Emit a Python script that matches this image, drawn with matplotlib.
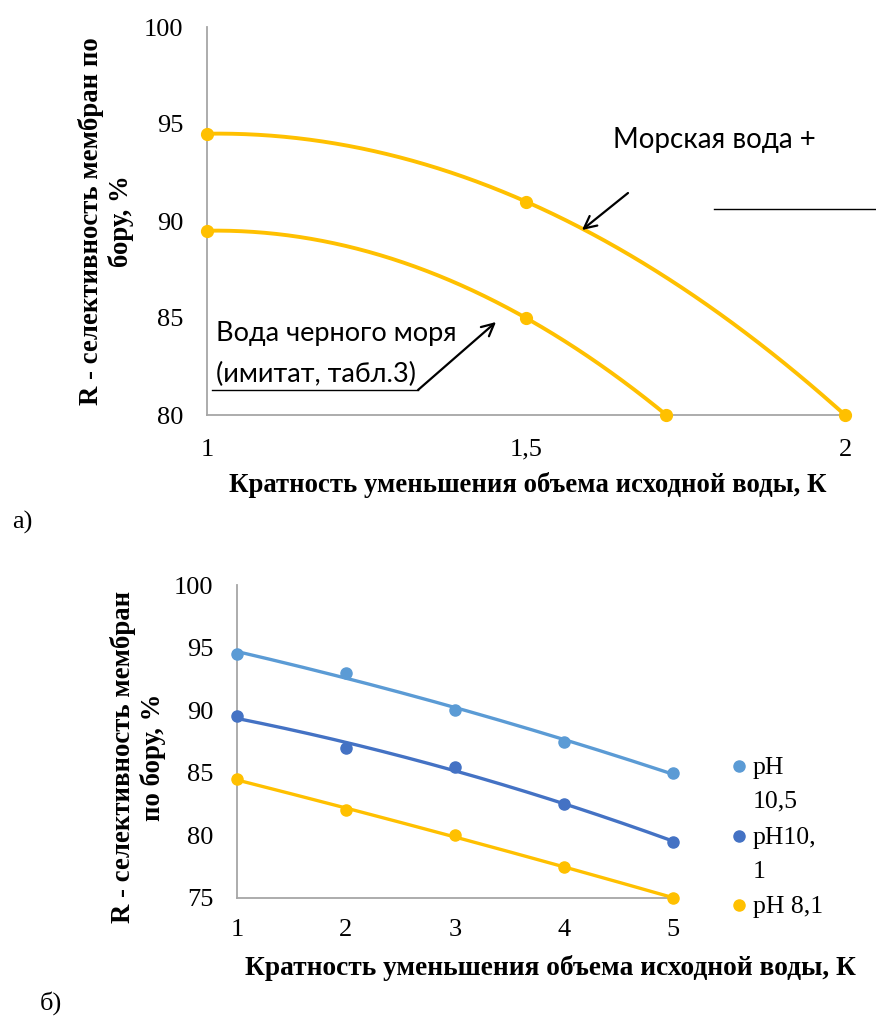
import numpy as np
import matplotlib
matplotlib.use("Agg")
import matplotlib.pyplot as plt
from matplotlib.lines import Line2D

# ---- (а) boron rejection vs. volume reduction factor, two water types ----
k_sea = [1.0, 1.5, 2.0]
r_sea = [94.5, 91.0, 80.0]
k_black = [1.0, 1.5, 1.72]
r_black = [89.5, 85.0, 80.0]
xticks_a = [1, 1.5, 2]
xticklabels_a = ["1", "1,5", "2"]
yticks_a = [80, 85, 90, 95, 100]

# ---- (б) boron rejection at different pH ----
k_ph = [1, 2, 3, 4, 5]
r_ph105 = [94.5, 93.0, 90.0, 87.5, 85.0]
r_ph101 = [89.5, 87.0, 85.5, 82.5, 79.5]
r_ph81 = [84.5, 82.0, 80.0, 77.5, 75.0]
ph_labels = ["pH\n10,5", "pH10,\n1", "pH 8,1"]
xticks_b = [1, 2, 3, 4, 5]
yticks_b = [75, 80, 85, 90, 95, 100]

GOLD = "#FFC000"
LBLUE = "#5B9BD5"
BLUE = "#4472C4"
SPINE = "#A6A6A6"
SERIF = "Liberation Serif"
SANS = "Lato"

W, H = 876, 1019
fig = plt.figure(figsize=(W / 100, H / 100), dpi=100)


def fpos(x, y):
    """pixel position -> figure fraction"""
    return x / W, 1 - y / H


def axes_rect(left, top, right, bottom):
    return [left / W, 1 - bottom / H, (right - left) / W, (bottom - top) / H]


def trend(x, y, n=200):
    coef = np.polyfit(x, y, 2)
    xs = np.linspace(min(x), max(x), n)
    return xs, np.polyval(coef, xs)


def style_axes(ax, ypad, xpad):
    for s in ("top", "right"):
        ax.spines[s].set_visible(False)
    for s in ("left", "bottom"):
        ax.spines[s].set_color(SPINE)
        ax.spines[s].set_linewidth(1.3)
    ax.tick_params(length=0, labelsize=19)
    ax.tick_params(axis="y", pad=ypad)
    ax.tick_params(axis="x", pad=xpad)
    for lab in ax.get_xticklabels() + ax.get_yticklabels():
        lab.set_fontfamily(SERIF)


# ================= (а) =================
ax1 = fig.add_axes(axes_rect(207, 27, 845, 415))
for kx, ry in ((k_sea, r_sea), (k_black, r_black)):
    xs, ys = trend(kx, ry)
    ax1.plot(xs, ys, color=GOLD, lw=2.8, solid_capstyle="round", clip_on=False, zorder=3)
    ax1.plot(kx, ry, "o", color=GOLD, ms=8.5, clip_on=False, zorder=4)
ax1.set_xlim(1, 2)
ax1.set_ylim(80, 100)
ax1.set_xticks(xticks_a)
ax1.set_xticklabels(xticklabels_a)
ax1.set_yticks(yticks_a)
style_axes(ax1, ypad=17, xpad=17)

fig.text(*fpos(106, 221), "R - селективность мембран по\nбору, %", rotation=90,
         ha="center", va="center", multialignment="center", family=SERIF,
         weight="bold", fontsize=19.3, linespacing=1.15)
fig.text(*fpos(528, 485), "Кратность уменьшения объема исходной воды, К",
         ha="center", va="center", family=SERIF, weight="bold", fontsize=19.3)
fig.text(*fpos(22, 522), "а)", ha="center", va="center", family=SERIF, fontsize=19)

# callouts
fig.text(*fpos(613, 140), "Морская вода +", ha="left", va="center", family=SANS, fontsize=20)
fig.add_artist(Line2D([714 / W, 876 / W], [1 - 209 / H, 1 - 209 / H], color="black", lw=1))
ax1.annotate("", xy=fpos(582, 230), xytext=fpos(628, 193),
             xycoords="figure fraction", textcoords="figure fraction",
             arrowprops=dict(arrowstyle="->", color="black", lw=1.6,
                             mutation_scale=22, shrinkA=0, shrinkB=0))

fig.text(*fpos(216, 354), "Вода черного моря\n(имитат, табл.3)", ha="left", va="center",
         family=SANS, fontsize=19.5, linespacing=1.8)
fig.add_artist(Line2D([212 / W, 418 / W], [1 - 390 / H, 1 - 390 / H], color="black", lw=1))
ax1.annotate("", xy=fpos(496, 322), xytext=fpos(418, 390),
             xycoords="figure fraction", textcoords="figure fraction",
             arrowprops=dict(arrowstyle="->", color="black", lw=1.6,
                             mutation_scale=22, shrinkA=0, shrinkB=0))

# ================= (б) =================
ax2 = fig.add_axes(axes_rect(237, 585, 673, 898))
series_b = [(r_ph105, LBLUE), (r_ph101, BLUE), (r_ph81, GOLD)]
for ry, col in series_b:
    xs, ys = trend(k_ph, ry)
    ax2.plot(xs, ys, color=col, lw=2.4, solid_capstyle="round", clip_on=False, zorder=3)
    ax2.plot(k_ph, ry, "o", color=col, ms=8, clip_on=False, zorder=4)
ax2.set_xlim(1, 5)
ax2.set_ylim(75, 100)
ax2.set_xticks(xticks_b)
ax2.set_yticks(yticks_b)
style_axes(ax2, ypad=17, xpad=15)

fig.text(*fpos(138, 757), "R - селективность мембран\nпо бору, %", rotation=90,
         ha="center", va="center", multialignment="center", family=SERIF,
         weight="bold", fontsize=19.3, linespacing=1.22)
fig.text(*fpos(550, 968), "Кратность уменьшения объема исходной воды, К",
         ha="center", va="center", family=SERIF, weight="bold", fontsize=19.7)
fig.text(*fpos(51, 1003), "б)", ha="center", va="center", family=SERIF, fontsize=19)

# legend: marker next to the first line of each label
legend_rows = [766, 836, 905]
for (ry, col), lab, yrow in zip(series_b, ph_labels, legend_rows):
    fig.add_artist(Line2D([739 / W], [1 - yrow / H], marker="o", color=col, ms=8, ls="none"))
    fig.text(*fpos(753, yrow - 9), lab, ha="left", va="top", family=SERIF,
             fontsize=18.5, linespacing=1.7)

fig.savefig("out.png", dpi=100)
